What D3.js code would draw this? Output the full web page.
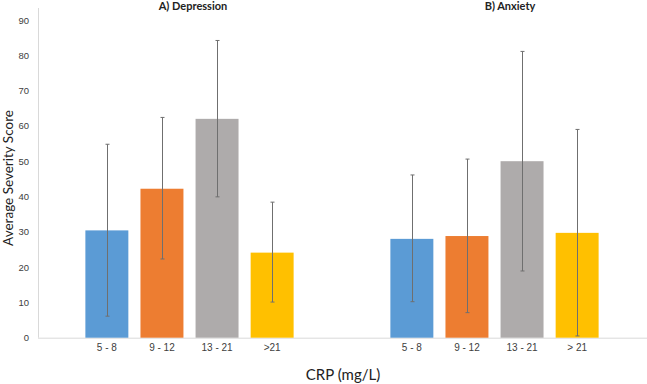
<!DOCTYPE html>
<html>
<head>
<meta charset="utf-8">
<script src="https://cdn.jsdelivr.net/npm/d3@7"></script>
<style>
  body { margin: 0; background: #fff; }
  svg { display: block; font-family: Lato, "Open Sans", sans-serif; }
</style>
</head>
<body>
<svg id="chart" width="647" height="384"></svg>
<script>
// data
const depCategories = ["5 - 8", "9 - 12", "13 - 21", ">21"];
const anxCategories = ["5 - 8", "9 - 12", "13 - 21", "> 21"];
const depMeans = [30.4, 42.2, 62.0, 24.1];
const depLow = [6.1, 22.3, 39.9, 10.1];
const depHigh = [54.8, 62.4, 84.2, 38.4];
const anxMeans = [28.0, 28.8, 50.0, 29.7];
const anxLow = [10.2, 7.1, 18.9, 0.5];
const anxHigh = [46.1, 50.6, 81.1, 59.0];
const yTicks = [0, 10, 20, 30, 40, 50, 60, 70, 80, 90];
const colors = ["#5b9bd5", "#ed7d31", "#aeabab", "#ffc000"];

const width = 647, height = 384;
const margin = { top: 20, right: 0, bottom: 46, left: 38 };
const svg = d3.select("#chart");

const y = d3.scaleLinear()
  .domain([0, 90])
  .range([height - margin.bottom - 0.3, margin.top]);

// y axis
const yAxis = svg.append("g")
  .attr("transform", `translate(${margin.left},0)`)
  .call(d3.axisLeft(y).tickValues(yTicks).tickSize(0).tickPadding(9));
yAxis.select(".domain").remove();
yAxis.selectAll(".tick text")
  .attr("fill", "#404040")
  .style("font-size", "9.5px");

svg.append("line")
  .attr("x1", margin.left + 0.5).attr("x2", margin.left + 0.5)
  .attr("y1", 8).attr("y2", y(0))
  .attr("stroke", "#d9d9d9");
svg.append("line")
  .attr("x1", margin.left).attr("x2", width)
  .attr("y1", y(0) + 0.5).attr("y2", y(0) + 0.5)
  .attr("stroke", "#d9d9d9");

const panels = [
  { title: "A) Depression", cats: depCategories, mean: depMeans, lo: depLow, hi: depHigh, range: [38, 341], titleX: 193 },
  { title: "B) Anxiety", cats: anxCategories, mean: anxMeans, lo: anxLow, hi: anxHigh, range: [343, 646], titleX: 510 }
];

panels.forEach(p => {
  const x = d3.scaleBand()
    .domain(p.cats)
    .range(p.range)
    .paddingInner(0.22)
    .paddingOuter(0.86);

  const rows = p.cats.map((c, i) => ({ cat: c, v: p.mean[i], lo: p.lo[i], hi: p.hi[i], color: colors[i] }));
  const g = svg.append("g");

  g.selectAll(".bar")
    .data(rows)
    .join("rect")
    .attr("class", "bar")
    .attr("x", d => x(d.cat))
    .attr("width", x.bandwidth())
    .attr("y", d => y(d.v))
    .attr("height", d => y(0) - y(d.v))
    .attr("fill", d => d.color);

  const err = g.selectAll(".err")
    .data(rows)
    .join("g")
    .attr("class", "err")
    .attr("transform", d => `translate(${Math.round(x(d.cat) + x.bandwidth() / 2) + 0.5},0)`)
    .attr("stroke", "#6f6f6f")
    .attr("stroke-width", 1);
  err.append("line").attr("y1", d => y(d.lo)).attr("y2", d => y(d.hi));
  err.append("line").attr("x1", -2).attr("x2", 2).attr("y1", d => y(d.hi)).attr("y2", d => y(d.hi));
  err.append("line").attr("x1", -2).attr("x2", 2).attr("y1", d => y(d.lo)).attr("y2", d => y(d.lo));

  const xAxis = g.append("g")
    .attr("transform", `translate(0,${y(0)})`)
    .call(d3.axisBottom(x).tickSize(0).tickPadding(6));
  xAxis.select(".domain").remove();
  xAxis.selectAll(".tick text")
    .attr("fill", "#404040")
    .style("font-size", "10px");

  g.append("text")
    .attr("x", p.titleX)
    .attr("y", 10)
    .attr("text-anchor", "middle")
    .attr("fill", "#222")
    .style("font-size", "11px")
    .style("font-weight", "bold")
    .text(p.title);
});

svg.append("text")
  .attr("transform", "translate(13,178) rotate(-90)")
  .attr("text-anchor", "middle")
  .attr("fill", "#222")
  .style("font-size", "13.5px")
  .text("Average Severity Score");

svg.append("text")
  .attr("x", 343)
  .attr("y", 380)
  .attr("text-anchor", "middle")
  .attr("fill", "#222")
  .style("font-size", "15px")
  .text("CRP (mg/L)");
</script>
</body>
</html>
